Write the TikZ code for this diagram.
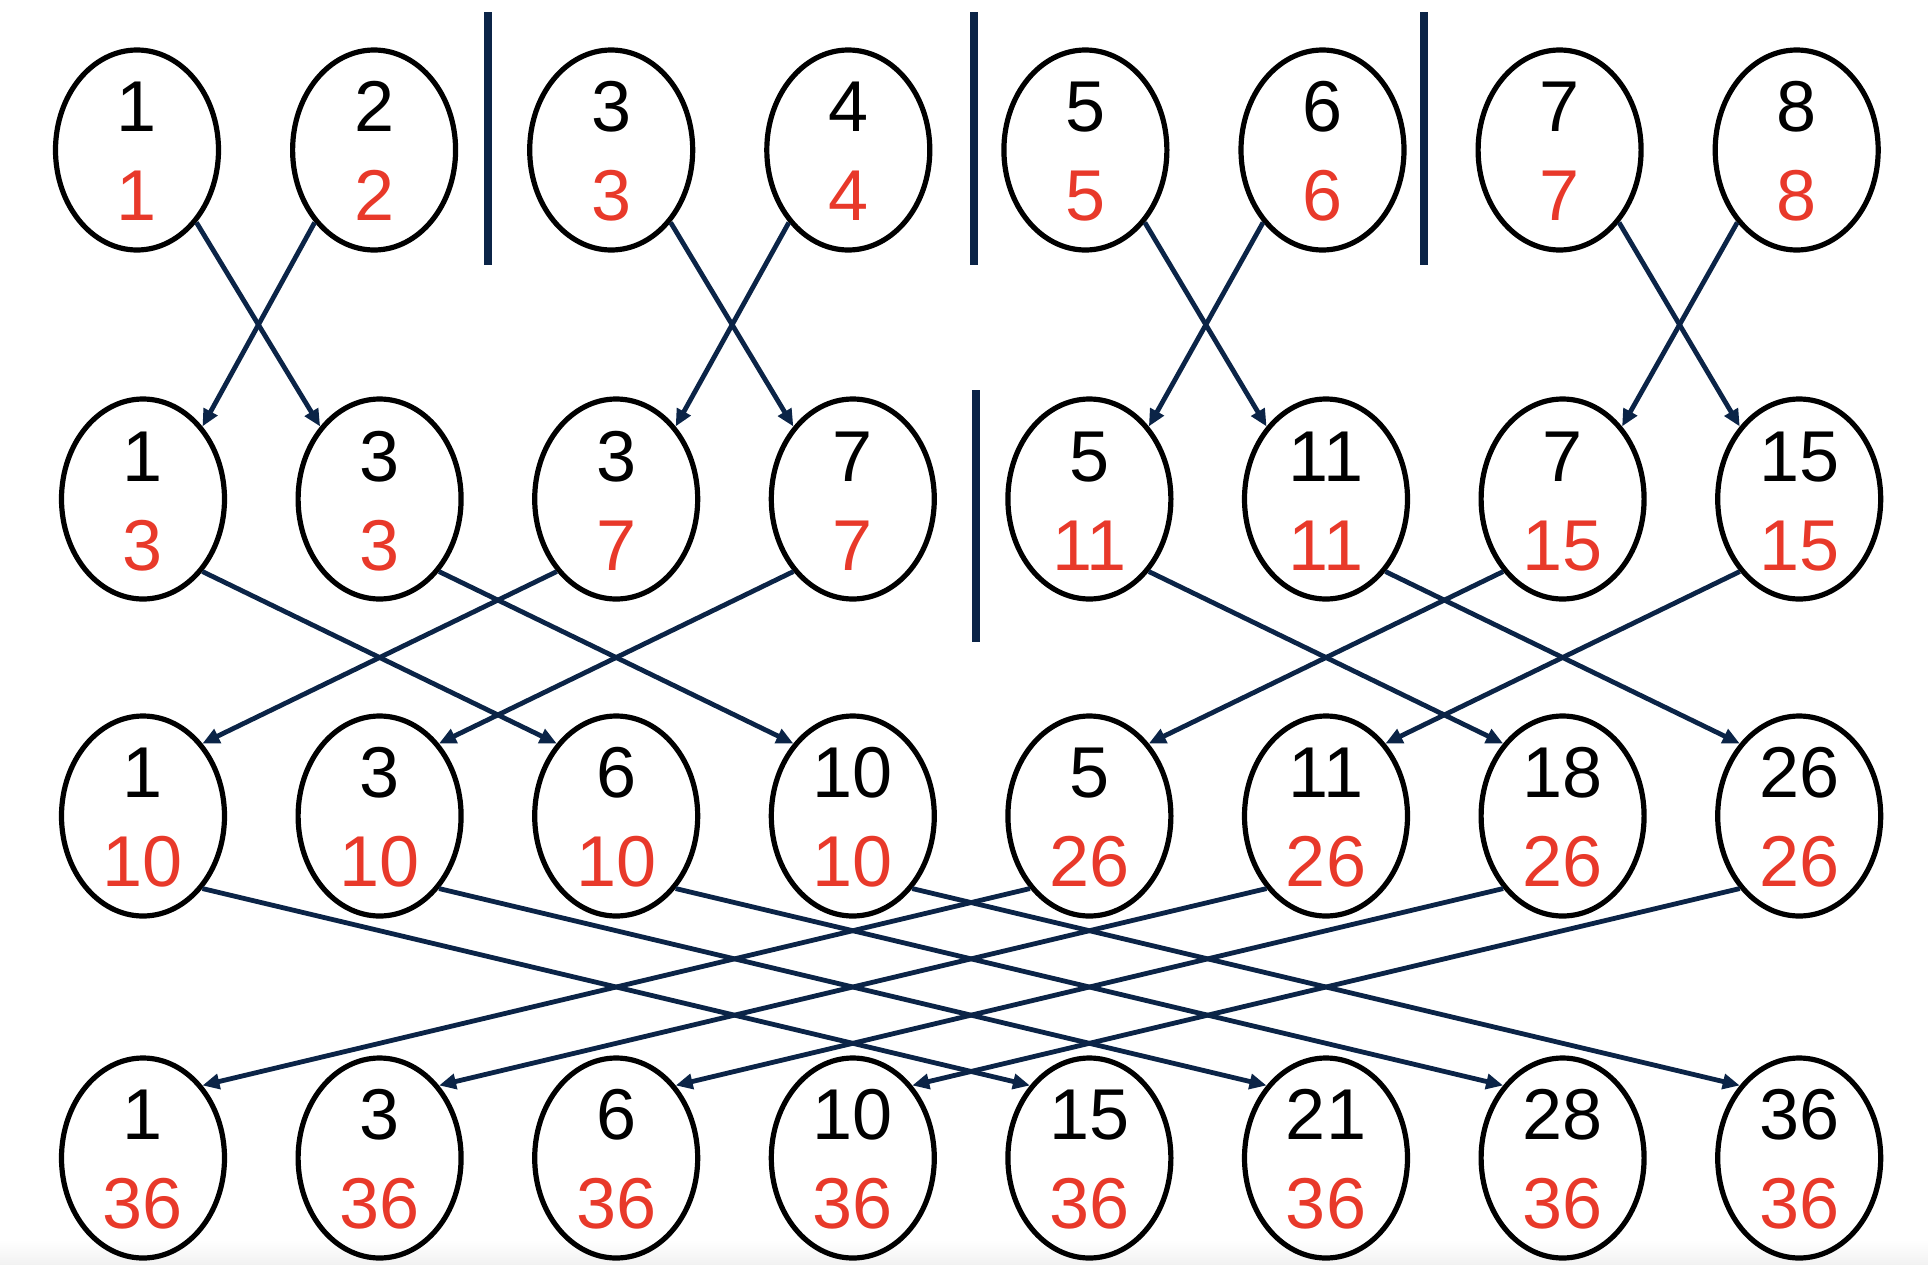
\documentclass[tikz,border=0pt]{standalone}
\usepackage{fontspec}
\setmainfont{Liberation Sans}
\usetikzlibrary{arrows.meta,shapes.geometric}
\definecolor{navy}{HTML}{0B2447}
\definecolor{numred}{HTML}{E8392A}
\begin{document}
\begin{tikzpicture}[x=1pt,y=-1pt,
  cell/.style={draw=black, line width=5.2pt, ellipse, minimum width=163pt, minimum height=200pt, inner sep=0pt},
  topnum/.style={anchor=base, inner sep=0pt, font=\fontsize{72}{72}\selectfont, text=black},
  botnum/.style={anchor=base, inner sep=0pt, font=\fontsize{72}{72}\selectfont, text=numred},
  link/.style={draw=navy, line width=4.8pt, -{Triangle[length=17pt,width=15pt]}},
  divider/.style={draw=navy, line width=8pt}]
\useasboundingbox (0,0) rectangle (1928,1264);
\shade[top color=white, bottom color=black!5] (0,1240) rectangle (1928,1264);
% row 1
\foreach \t/\r [count=\k] in {1/1,2/2,3/3,4/4,5/5,6/6,7/7,8/8}{
  \node[cell] (a\k) at ({137+237.1*(\k-1)},150) {};
  \node[topnum] (a\k t) at ({137+237.1*(\k-1)},131.5) {\t};
  \node[botnum] (a\k b) at ({137+237.1*(\k-1)},220.5) {\r};
}
% row 2
\foreach \t/\r [count=\k] in {1/3,3/3,3/7,7/7,5/11,11/11,7/15,15/15}{
  \node[cell] (b\k) at ({143+236.6*(\k-1)},499) {};
  \node[topnum] (b\k t) at ({143+236.6*(\k-1)},481.5) {\t};
  \node[botnum] (b\k b) at ({143+236.6*(\k-1)},570) {\r};
}
% row 3
\foreach \t/\r [count=\k] in {1/10,3/10,6/10,10/10,5/26,11/26,18/26,26/26}{
  \node[cell] (c\k) at ({143+236.6*(\k-1)},816) {};
  \node[topnum] (c\k t) at ({143+236.6*(\k-1)},797.5) {\t};
  \node[botnum] (c\k b) at ({143+236.6*(\k-1)},886.5) {\r};
}
% row 4
\foreach \t/\r [count=\k] in {1/36,3/36,6/36,10/36,15/36,21/36,28/36,36/36}{
  \node[cell] (d\k) at ({143+236.6*(\k-1)},1158) {};
  \node[topnum] (d\k t) at ({143+236.6*(\k-1)},1139.5) {\t};
  \node[botnum] (d\k b) at ({143+236.6*(\k-1)},1228.5) {\r};
}
% dividers
\draw[divider] (488,12) -- (488,265);
\draw[divider] (974,12) -- (974,265);
\draw[divider] (1424,12) -- (1424,265);
\draw[divider] (976,390) -- (976,642);
% row 1 -> row 2
\foreach \k/\m in {1/2,3/4,5/6,7/8}{
  \draw[link] (a\k.south east) -- (b\m.north west);
  \draw[link] (a\m.south west) -- (b\k.north east);
}
% row 2 -> row 3
\foreach \k/\m in {1/3,2/4,5/7,6/8}{
  \draw[link] (b\k.south east) -- (c\m.north west);
  \draw[link] (b\m.south west) -- (c\k.north east);
}
% row 3 -> row 4
\foreach \k/\m in {1/5,2/6,3/7,4/8}{
  \draw[link] (c\k.south east) -- (d\m.north west);
  \draw[link] (c\m.south west) -- (d\k.north east);
}
\end{tikzpicture}
\end{document}
